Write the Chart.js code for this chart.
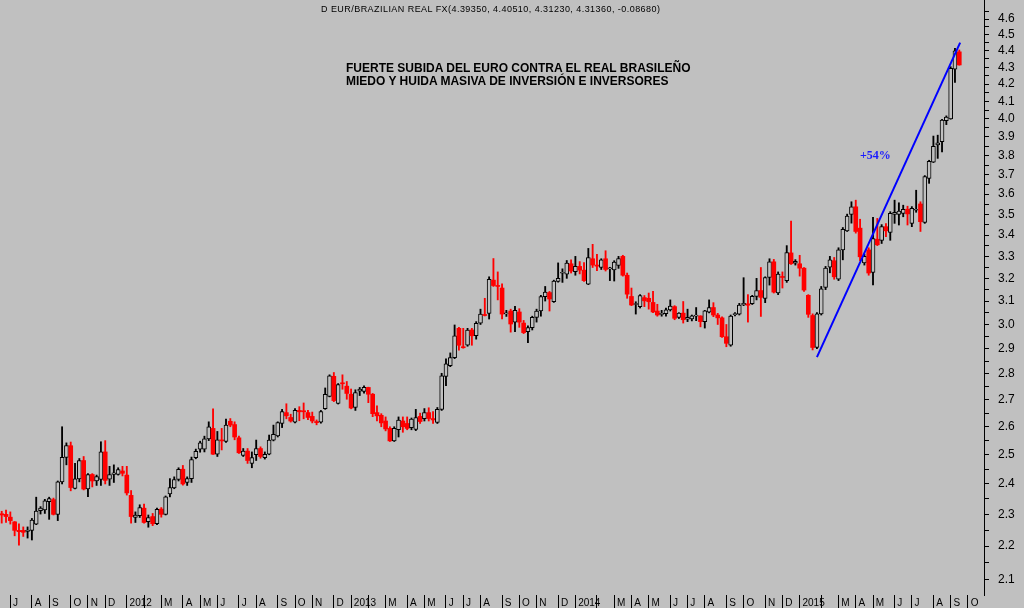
<!DOCTYPE html>
<html>
<head>
<meta charset="utf-8">
<script src="https://cdn.jsdelivr.net/npm/chart.js@4.4.1/dist/chart.umd.min.js"></script>
<style>
  html, body { margin: 0; padding: 0; background: #c0c0c0; }
  #wrap { position: relative; width: 1024px; height: 608px; overflow: hidden; }
  #chart { position: absolute; left: 0; top: 0; }
  .txt { position: absolute; white-space: nowrap; font-family: 'Liberation Sans', Arial, sans-serif; color: #000; }
</style>
</head>
<body>
<div id="wrap">
  <canvas id="chart" width="1024" height="608"></canvas>
  <div class="txt" style="left:321px;top:4px;font-size:9px;letter-spacing:0.45px;">D EUR/BRAZILIAN REAL FX(4.39350, 4.40510, 4.31230, 4.31360, -0.08680)</div>
  <div class="txt" style="left:346px;top:62px;font-size:12px;font-weight:bold;line-height:13.4px;">FUERTE SUBIDA DEL EURO CONTRA EL REAL BRASILEÑO<br>MIEDO Y HUIDA MASIVA DE INVERSIÓN E INVERSORES</div>
  <div class="txt" style="left:860px;top:148px;font-family:'Liberation Serif',serif;font-size:12px;font-weight:bold;color:#1a1aff;">+54%</div>
</div>
<script>
// weekly EUR/BRL candles, first week ending 2011-06-17
const firstWeek = Date.UTC(2011, 5, 17);

const open = [
  2.302, 2.30, 2.291, 2.276, 2.249, 2.249, 2.246, 2.249, 2.269, 2.312,
  2.314, 2.341, 2.348, 2.30, 2.407, 2.491, 2.532, 2.385, 2.417, 2.48,
  2.383, 2.432, 2.41, 2.415, 2.51, 2.416, 2.432, 2.432, 2.444, 2.43,
  2.362, 2.29, 2.296, 2.32, 2.277, 2.293, 2.27, 2.317, 2.30, 2.367,
  2.387, 2.415, 2.45, 2.405, 2.418, 2.49, 2.52, 2.52, 2.556, 2.594,
  2.502, 2.552, 2.547, 2.62, 2.608, 2.56, 2.498, 2.513, 2.47, 2.50,
  2.522, 2.49, 2.502, 2.552, 2.567, 2.612, 2.652, 2.634, 2.617, 2.66,
  2.658, 2.652, 2.638, 2.619, 2.617, 2.667, 2.713, 2.79, 2.686, 2.765,
  2.752, 2.721, 2.671, 2.733, 2.732, 2.747, 2.721, 2.652, 2.642, 2.621,
  2.594, 2.549, 2.589, 2.621, 2.612, 2.597, 2.59, 2.638, 2.63, 2.652,
  2.63, 2.616, 2.664, 2.79, 2.832, 2.864, 2.984, 2.908, 2.914, 2.977,
  2.953, 3.005, 3.042, 3.047, 3.192, 3.168, 3.157, 3.045, 3.057, 3.01,
  3.053, 3.006, 2.97, 2.987, 3.03, 3.057, 3.119, 3.137, 3.097, 3.186,
  3.223, 3.219, 3.266, 3.23, 3.254, 3.237, 3.174, 3.289, 3.26, 3.249,
  3.289, 3.243, 3.238, 3.258, 3.30, 3.214, 3.12, 3.085, 3.076, 3.115,
  3.112, 3.094, 3.057, 3.043, 3.046, 3.062, 3.076, 3.03, 3.048, 3.022,
  3.023, 3.035, 3.036, 3.012, 3.052, 3.072, 3.04, 3.028, 2.949, 2.914,
  3.042, 3.044, 3.083, 3.088, 3.089, 3.12, 3.146, 3.111, 3.204, 3.275,
  3.135, 3.207, 3.19, 3.316, 3.269, 3.266, 3.246, 3.125, 3.038, 2.905,
  3.045, 3.16, 3.25, 3.28, 3.196, 3.33, 3.42, 3.50, 3.537, 3.433,
  3.27, 3.33, 3.227, 3.38, 3.375, 3.44, 3.413, 3.50, 3.50, 3.505,
  3.525, 3.456, 3.52, 3.551, 3.461, 3.68, 3.765, 3.857, 3.875, 3.99,
  4.0, 4.288, 4.3935
];
const high = [
  2.31, 2.314, 2.308, 2.277, 2.27, 2.26, 2.26, 2.287, 2.356, 2.325,
  2.349, 2.356, 2.353, 2.41, 2.60, 2.542, 2.545, 2.47, 2.487, 2.494,
  2.435, 2.435, 2.43, 2.546, 2.55, 2.46, 2.465, 2.455, 2.46, 2.46,
  2.378, 2.308, 2.331, 2.333, 2.298, 2.303, 2.32, 2.322, 2.36, 2.418,
  2.424, 2.455, 2.463, 2.424, 2.492, 2.52, 2.548, 2.566, 2.618, 2.666,
  2.583, 2.594, 2.628, 2.63, 2.618, 2.566, 2.522, 2.522, 2.51, 2.552,
  2.528, 2.51, 2.57, 2.606, 2.618, 2.664, 2.685, 2.646, 2.667, 2.674,
  2.688, 2.66, 2.654, 2.625, 2.66, 2.745, 2.796, 2.805, 2.762, 2.796,
  2.77, 2.741, 2.738, 2.747, 2.753, 2.748, 2.724, 2.677, 2.648, 2.636,
  2.60, 2.60, 2.636, 2.636, 2.636, 2.632, 2.664, 2.65, 2.667, 2.67,
  2.656, 2.671, 2.802, 2.859, 2.883, 2.998, 2.988, 2.984, 2.984, 2.984,
  3.012, 3.065, 3.112, 3.207, 3.29, 3.229, 3.176, 3.06, 3.065, 3.077,
  3.067, 3.017, 2.994, 3.035, 3.065, 3.125, 3.164, 3.142, 3.192, 3.27,
  3.243, 3.281, 3.284, 3.30, 3.276, 3.271, 3.337, 3.356, 3.31, 3.289,
  3.326, 3.25, 3.28, 3.30, 3.305, 3.224, 3.157, 3.097, 3.128, 3.124,
  3.135, 3.142, 3.086, 3.06, 3.07, 3.105, 3.08, 3.05, 3.098, 3.065,
  3.04, 3.072, 3.037, 3.06, 3.105, 3.093, 3.047, 3.032, 3.0, 3.04,
  3.05, 3.09, 3.203, 3.128, 3.125, 3.20, 3.249, 3.207, 3.289, 3.286,
  3.229, 3.229, 3.35, 3.467, 3.285, 3.305, 3.249, 3.128, 3.045, 3.05,
  3.164, 3.254, 3.30, 3.295, 3.34, 3.436, 3.501, 3.562, 3.57, 3.476,
  3.31, 3.34, 3.485, 3.48, 3.45, 3.455, 3.513, 3.57, 3.557, 3.545,
  3.54, 3.538, 3.62, 3.562, 3.695, 3.775, 3.905, 3.91, 3.998, 4.017,
  4.303, 4.415, 4.4051
];
const low = [
  2.272, 2.274, 2.269, 2.232, 2.203, 2.23, 2.225, 2.219, 2.267, 2.301,
  2.303, 2.284, 2.298, 2.28, 2.40, 2.465, 2.377, 2.383, 2.407, 2.38,
  2.358, 2.39, 2.395, 2.395, 2.40, 2.395, 2.405, 2.43, 2.427, 2.363,
  2.272, 2.274, 2.29, 2.272, 2.259, 2.264, 2.267, 2.291, 2.298, 2.357,
  2.384, 2.41, 2.396, 2.395, 2.405, 2.486, 2.509, 2.51, 2.55, 2.501,
  2.494, 2.517, 2.544, 2.60, 2.553, 2.505, 2.494, 2.47, 2.455, 2.48,
  2.488, 2.485, 2.50, 2.549, 2.563, 2.597, 2.629, 2.617, 2.614, 2.622,
  2.629, 2.626, 2.614, 2.607, 2.613, 2.664, 2.711, 2.693, 2.684, 2.74,
  2.702, 2.666, 2.66, 2.716, 2.725, 2.689, 2.637, 2.621, 2.60, 2.585,
  2.547, 2.547, 2.563, 2.58, 2.589, 2.589, 2.586, 2.612, 2.621, 2.621,
  2.612, 2.612, 2.66, 2.754, 2.828, 2.86, 2.894, 2.902, 2.91, 2.914,
  2.939, 3.00, 3.036, 3.023, 3.164, 3.105, 3.023, 3.034, 2.968, 2.97,
  2.988, 2.962, 2.925, 2.977, 3.01, 3.035, 3.10, 3.057, 3.094, 3.183,
  3.182, 3.20, 3.224, 3.214, 3.22, 3.186, 3.172, 3.249, 3.235, 3.24,
  3.233, 3.19, 3.188, 3.245, 3.21, 3.112, 3.08, 3.044, 3.07, 3.076,
  3.065, 3.05, 3.035, 3.035, 3.035, 3.057, 3.02, 3.025, 3.006, 3.012,
  3.015, 3.016, 2.99, 2.985, 3.049, 3.033, 3.00, 2.946, 2.908, 2.91,
  3.036, 3.04, 3.08, 3.01, 3.085, 3.105, 3.034, 3.093, 3.17, 3.135,
  3.128, 3.157, 3.182, 3.263, 3.26, 3.21, 3.142, 3.03, 2.895, 2.90,
  3.04, 3.15, 3.225, 3.196, 3.19, 3.284, 3.417, 3.457, 3.409, 3.28,
  3.26, 3.214, 3.171, 3.35, 3.36, 3.392, 3.375, 3.456, 3.448, 3.488,
  3.448, 3.44, 3.51, 3.417, 3.456, 3.655, 3.763, 3.785, 3.82, 3.968,
  3.998, 4.21, 4.3123
];
const close = [
  2.298, 2.293, 2.28, 2.249, 2.245, 2.243, 2.25, 2.282, 2.311, 2.32,
  2.344, 2.351, 2.30, 2.407, 2.491, 2.532, 2.388, 2.417, 2.48, 2.383,
  2.432, 2.41, 2.425, 2.51, 2.412, 2.432, 2.438, 2.449, 2.436, 2.37,
  2.293, 2.298, 2.322, 2.274, 2.29, 2.27, 2.316, 2.30, 2.357, 2.388,
  2.415, 2.45, 2.40, 2.418, 2.483, 2.512, 2.542, 2.556, 2.60, 2.502,
  2.553, 2.549, 2.606, 2.606, 2.563, 2.507, 2.513, 2.48, 2.49, 2.522,
  2.494, 2.502, 2.552, 2.573, 2.615, 2.656, 2.64, 2.621, 2.66, 2.655,
  2.655, 2.634, 2.621, 2.615, 2.656, 2.721, 2.792, 2.697, 2.758, 2.761,
  2.724, 2.669, 2.727, 2.741, 2.747, 2.721, 2.648, 2.64, 2.614, 2.592,
  2.549, 2.594, 2.624, 2.60, 2.594, 2.628, 2.634, 2.619, 2.652, 2.63,
  2.625, 2.664, 2.792, 2.839, 2.864, 2.953, 2.914, 2.904, 2.977, 2.953,
  3.005, 3.044, 3.038, 3.196, 3.168, 3.164, 3.044, 3.048, 3.002, 3.06,
  3.01, 2.966, 2.987, 3.03, 3.057, 3.119, 3.139, 3.109, 3.188, 3.20,
  3.226, 3.269, 3.233, 3.254, 3.237, 3.19, 3.294, 3.26, 3.255, 3.284,
  3.24, 3.246, 3.274, 3.29, 3.214, 3.13, 3.083, 3.088, 3.124, 3.101,
  3.097, 3.053, 3.04, 3.046, 3.062, 3.078, 3.026, 3.048, 3.02, 3.03,
  3.037, 3.037, 3.012, 3.058, 3.072, 3.04, 3.028, 2.949, 2.922, 3.035,
  3.045, 3.083, 3.09, 3.082, 3.12, 3.146, 3.116, 3.204, 3.275, 3.139,
  3.219, 3.204, 3.318, 3.266, 3.277, 3.246, 3.148, 3.043, 2.905, 3.045,
  3.154, 3.246, 3.284, 3.207, 3.33, 3.427, 3.491, 3.537, 3.417, 3.298,
  3.30, 3.224, 3.383, 3.354, 3.44, 3.42, 3.505, 3.51, 3.516, 3.525,
  3.502, 3.53, 3.522, 3.464, 3.69, 3.77, 3.85, 3.868, 3.994, 4.01,
  4.293, 4.40, 4.3136
];

// price axis: labelled every 0.1, small marks in between
const priceLabels = ['2.1','2.2','2.3','2.4','2.5','2.6','2.7','2.8','2.9','3.0','3.1','3.2','3.3',
                     '3.4','3.5','3.6','3.7','3.8','3.9','4.0','4.1','4.2','4.3','4.4','4.5','4.6'];
const priceMarks  = [2.1, 2.15, 2.2, 2.25, 2.3, 2.35, 2.4, 2.45, 2.5, 2.55, 2.6, 2.65, 2.7, 2.75,
                     2.8, 2.85, 2.9, 2.95, 3.0, 3.05, 3.1, 3.15, 3.2, 3.25, 3.3, 3.35, 3.4, 3.45,
                     3.5, 3.55, 3.6, 3.65, 3.7, 3.75, 3.8, 3.85, 3.9, 3.95, 4.0, 4.05, 4.1, 4.15,
                     4.2, 4.25, 4.3, 4.35, 4.4, 4.45, 4.5, 4.55, 4.6, 4.65];
const monthLetters = ['J', 'F', 'M', 'A', 'M', 'J', 'J', 'A', 'S', 'O', 'N', 'D'];

// trend line drawn on the chart (week index, price)
const trendWeeks  = [189.0, 222.2];
const trendPrices = [2.866, 4.45];

const UP_FILL = '#c0c0c0';
const DOWN    = '#ff0000';

const WEEK = 7 * 86400000;
const monthTicks = [];
for (let i = 1; i <= 227; i++) {
  const d = new Date(firstWeek + i * WEEK);
  const p = new Date(firstWeek + (i - 1) * WEEK);
  if (d.getUTCMonth() === p.getUTCMonth()) continue;
  const m = d.getUTCMonth();
  let label = ' ' + monthLetters[m];
  if (m === 0) label = ' ' + d.getUTCFullYear();
  if (m === 1) label = '';          // hidden behind the year label
  monthTicks.push({ value: i, label });
}

const isDown = open.map((o, i) => close[i] < o);

const bodies = {
  type: 'bar',
  order: 1,
  data: open.map((o, i) => ({ x: i, y: [Math.min(o, close[i]), Math.max(o, close[i])] })),
  backgroundColor: isDown.map(d => d ? DOWN : UP_FILL),
  borderColor:     isDown.map(d => d ? DOWN : '#000'),
  borderWidth:     isDown.map(d => d ? 0 : 1),
  borderSkipped: false,
  barThickness: 4,
  minBarLength: 1,
  grouped: false,
};

const wicks = {
  type: 'bar',
  order: 2,
  data: low.map((l, i) => ({ x: i, y: [l, high[i]] })),
  backgroundColor: isDown.map(d => d ? DOWN : '#000'),
  borderWidth: 0,
  barThickness: 1.2,
  grouped: false,
};

const trend = {
  type: 'line',
  order: 0,
  data: trendWeeks.map((w, i) => ({ x: w, y: trendPrices[i] })),
  borderColor: '#0000ff',
  borderWidth: 2,
  pointRadius: 0,
};

new Chart(document.getElementById('chart'), {
  type: 'bar',
  data: { datasets: [trend, bodies, wicks] },
  options: {
    responsive: false,
    animation: false,
    layout: { padding: 0 },
    plugins: { legend: { display: false }, tooltip: { enabled: false } },
    scales: {
      x: {
        type: 'linear',
        min: -0.394,
        max: 227.73,
        offset: false,
        afterBuildTicks: s => { s.ticks = monthTicks.map(t => ({ value: t.value })); },
        afterFit: s => { s.height = 13; s.paddingLeft = 0; s.paddingRight = 0; },
        grid:   { offset: false, drawOnChartArea: false, tickLength: 13, color: '#000' },
        border: { display: false },
        ticks: {
          autoSkip: false, maxRotation: 0, minRotation: 0,
          align: 'start', padding: -11, color: '#000',
          font: { family: 'Liberation Sans', size: 10 },
          callback: (v, i) => monthTicks[i] ? monthTicks[i].label : '',
        },
      },
      y: {
        type: 'logarithmic',
        position: 'right',
        min: 2.0546,
        max: 4.724,
        afterBuildTicks: s => { s.ticks = priceMarks.map(v => ({ value: v })); },
        afterFit: s => { s.width = 40; s.paddingTop = 0; s.paddingBottom = 0; },
        grid:   { drawOnChartArea: false, tickLength: 5, color: '#000' },
        border: { display: true, color: '#000' },
        ticks: {
          autoSkip: false, padding: 9, color: '#000',
          font: { family: 'Liberation Sans', size: 12 },
          callback: (v, i) => (i % 2 === 0 ? priceLabels[i / 2] : ''),
        },
      },
    },
  },
});
</script>
</body>
</html>
